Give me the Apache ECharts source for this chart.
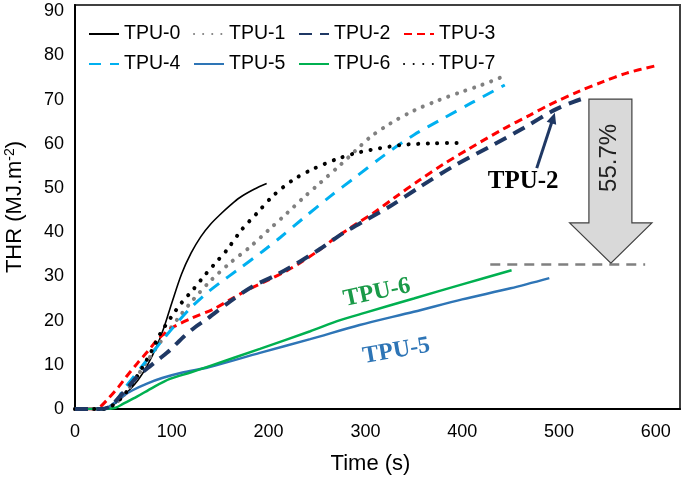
<!DOCTYPE html>
<html><head><meta charset="utf-8">
<script src="https://cdn.jsdelivr.net/npm/echarts@6/dist/echarts.min.js"></script>
<style>html,body{margin:0;padding:0;background:#fff}#c{width:685px;height:482px}</style>
</head><body><div id="c"></div>
<script>
const seriesNames = ['TPU-0','TPU-1','TPU-2','TPU-3','TPU-4','TPU-5','TPU-6','TPU-7'];
const xTicks = [0,100,200,300,400,500,600];
const yTicks = [0,10,20,30,40,50,60,70,80,90];

const tpu0 = [[0,0],[25,0],[35,0.5],[45,1.8],[55,4],[65,6.5],[75,10],[85,14.5],[92,18.5],[100,24],[110,30.5],[120,35.3],[130,39],[140,41.8],[150,44],[160,46],[170,47.8],[185,49.7],[198,51]];
const tpu1 = [[0,0],[30,0],[40,1],[50,3],[60,6],[75,11],[95,17.2],[110,21.5],[122,24.7],[140,29],[160,33],[181,36.7],[200,40.5],[219,44.3],[236,47.8],[253,51.1],[274,55.2],[290,58.5],[305,61.5],[325,64.5],[350,67.5],[375,69.8],[400,71.8],[420,73.3],[442,75.2]];
const tpu2 = [[0,0],[25,0],[36,0.5],[45,2.5],[55,5],[65,7.5],[77,9.6],[88,11.5],[98,13.3],[112,16.3],[124,18.5],[136,20.3],[160,24.3],[184,27.8],[205,30],[222,32],[243,34.8],[253,36.2],[277,39.8],[301,42.8],[325,45.8],[356,50.2],[390,54.8],[428,59.3],[463,63.5],[494,67.5],[515,69.5],[530,70.6]];
const tpu3 = [[0,0],[20,0],[26,0.5],[35,2.5],[45,5],[53,7.3],[65,10.5],[75,13],[84,15.4],[92,17],[102,18.6],[120,20.5],[143,22.6],[160,24.7],[177,26.8],[200,29.2],[219,31.3],[232,33],[250,35.6],[267,38.4],[290,41.8],[308,44.3],[330,47.8],[356,51.8],[380,55.3],[408,59],[442,63.3],[470,66.5],[490,68.8],[520,71.8],[545,74],[570,76],[599,77.6]];
const tpu4 = [[0,0],[30,0],[40,1],[50,4.3],[74,11],[90,15.5],[105,19.4],[120,23],[136,26.2],[150,28.6],[167,31.3],[194,35.7],[212,38.8],[235,43],[263,48],[290,52.5],[320,57.5],[350,62],[380,65.7],[410,69.3],[444,73.3]];
const tpu5 = [[0,0],[20,0],[33,0.3],[40,1.3],[50,3],[60,4.3],[75,5.8],[90,7],[110,8.2],[139,9.5],[191,12.7],[243,15.8],[294,19],[350,22],[400,24.8],[450,27.3],[490,29.6]];
const tpu6 = [[0,0],[30,0],[42,0.3],[50,1.2],[64,2.8],[80,4.8],[98,6.8],[120,8.3],[139,9.7],[191,13.6],[243,17.6],[274,20.1],[300,21.8],[350,25],[400,28.2],[451,31.4]];
const tpu7 = [[0,0],[30,0],[40,1],[50,3],[60,6],[70,9.5],[80,13.5],[88,17],[100,21],[110,24],[122,27],[135,30.5],[147,33.5],[157,36],[172,40.5],[188,44.3],[205,48.3],[225,51.8],[245,54.2],[270,56.5],[294,58.1],[336,59.7],[370,60.1],[395,60.2]];
const refLine = [[429,32.7],[589,32.7]];

const seriesData = [tpu0,tpu1,tpu2,tpu3,tpu4,tpu5,tpu6,tpu7];
const colors = ['#000000','#808080','#1f3864','#ff0000','#00b0f0','#2e75b6','#00b050','#000000'];
const lineStyles = [
  {width:1.6, type:'solid'},
  {width:4, type:[0.1,9], cap:'round'},
  {width:4, type:[13,8]},
  {width:3, type:[8,5]},
  {width:3, type:[12,9]},
  {width:2.5, type:'solid'},
  {width:2.5, type:'solid'},
  {width:4, type:[0.1,9.5], cap:'round'}
];
const legendPos = [[88,24],[193,24],[298,24],[403,24],[88,54],[193,54],[298,54],[403,54]];

const chart = echarts.init(document.getElementById('c'), null, {renderer:'canvas'});
const FONT = 'Liberation Sans, Arial, sans-serif';

const series = seriesNames.map((n,i)=>({
  name:n, type:'line', data:seriesData[i], showSymbol:false, symbol:'none', smooth:0.3,
  lineStyle:Object.assign({color:colors[i]}, lineStyles[i]), itemStyle:{color:colors[i]},
  z: i===2?4:3
}));
series.push({name:'ref', type:'line', data:refLine, symbol:'none', lineStyle:{color:'#808080', width:2.5, type:[10,7]}, z:2});

chart.setOption({
  animation:false,
  grid:{left:75, right:5, top:5, bottom:73, show:true, borderColor:'#404040', borderWidth:2, containLabel:false, outerBoundsMode:'none'},
  legend: seriesNames.map((n,i)=>({
    data:[n], left:legendPos[i][0], top:legendPos[i][1], padding:0, itemWidth:30, itemHeight:14,
    itemStyle:{opacity:0},
    textStyle:{fontSize:19.5, color:'#000', fontFamily:FONT}, selectedMode:false
  })),
  xAxis:{type:'value', min:0, max:625, interval:100,
    name:'Time (s)', nameLocation:'middle', nameGap:44,
    nameTextStyle:{fontSize:22, color:'#000', fontFamily:FONT, padding:[0,14,0,0]},
    axisLine:{show:true, lineStyle:{color:'#000', width:2}}, axisTick:{show:false},
    axisLabel:{fontSize:18, color:'#000', fontFamily:FONT, margin:14,
      formatter:v=> xTicks.includes(v)? String(v):''},
    splitLine:{show:false}},
  yAxis:{type:'value', min:0, max:91.4, interval:10,
    name:'THR (MJ.m{sup|-2})', nameLocation:'middle', nameGap:49,
    nameTextStyle:{fontSize:22, color:'#000', fontFamily:FONT,
      rich:{sup:{fontSize:14, fontFamily:FONT, color:'#000', verticalAlign:'top', padding:[0,0,9,0]}}},
    axisLine:{show:true, lineStyle:{color:'#000', width:2}}, axisTick:{show:false},
    axisLabel:{fontSize:18, color:'#000', fontFamily:FONT, margin:11,
      formatter:v=> yTicks.includes(v)? String(v):''},
    splitLine:{show:false}},
  series:series
});

function P(x,y){return chart.convertToPixel({gridIndex:0},[x,y]);}
const arrowPts = [[530.9,70.1],[575.3,70.1],[575.3,42.1],[596,42.1],[553.6,33],[511,42.1],[530.9,42.1]];
const a0 = P(477,54.5), a1 = P(495.7,67);
const ang = Math.atan2(a1[1]-a0[1], a1[0]-a0[0]);
const hl = 11, hw = 5;
const head = [a1,
  [a1[0]-hl*Math.cos(ang)+hw*Math.sin(ang), a1[1]-hl*Math.sin(ang)-hw*Math.cos(ang)],
  [a1[0]-hl*Math.cos(ang)-hw*Math.sin(ang), a1[1]-hl*Math.sin(ang)+hw*Math.cos(ang)]];
const t2 = P(463,51.4), t6 = P(312,26.3), t5 = P(332,13.1), tp = P(552.5,56.8);
chart.setOption({graphic:[
  {type:'polygon', shape:{points:arrowPts.map(p=>P(p[0],p[1]))}, style:{fill:'#d9d9d9', stroke:'#404040', lineWidth:1.2}, z:10},
  {type:'text', x:tp[0], y:tp[1], rotation:Math.PI/2, style:{text:'55.7%', font:'24px Liberation Sans', fill:'#222', align:'center', verticalAlign:'middle'}, z:11},
  {type:'line', shape:{x1:a0[0], y1:a0[1], x2:a1[0]-6*Math.cos(ang), y2:a1[1]-6*Math.sin(ang)}, style:{stroke:'#1f3864', lineWidth:3}, z:10},
  {type:'polygon', shape:{points:head}, style:{fill:'#1f3864'}, z:10},
  {type:'text', x:t2[0], y:t2[1], style:{text:'TPU-2', font:'bold 25px Liberation Serif', fill:'#000', align:'center', verticalAlign:'middle'}, z:11},
  {type:'text', x:t6[0], y:t6[1], rotation:0.21, style:{text:'TPU-6', font:'bold 24px Liberation Serif', fill:'#1a9a48', align:'center', verticalAlign:'middle'}, z:11},
  {type:'text', x:t5[0], y:t5[1], rotation:0.17, style:{text:'TPU-5', font:'bold 24px Liberation Serif', fill:'#2e75b6', align:'center', verticalAlign:'middle'}, z:11}
]});
</script></body></html>
